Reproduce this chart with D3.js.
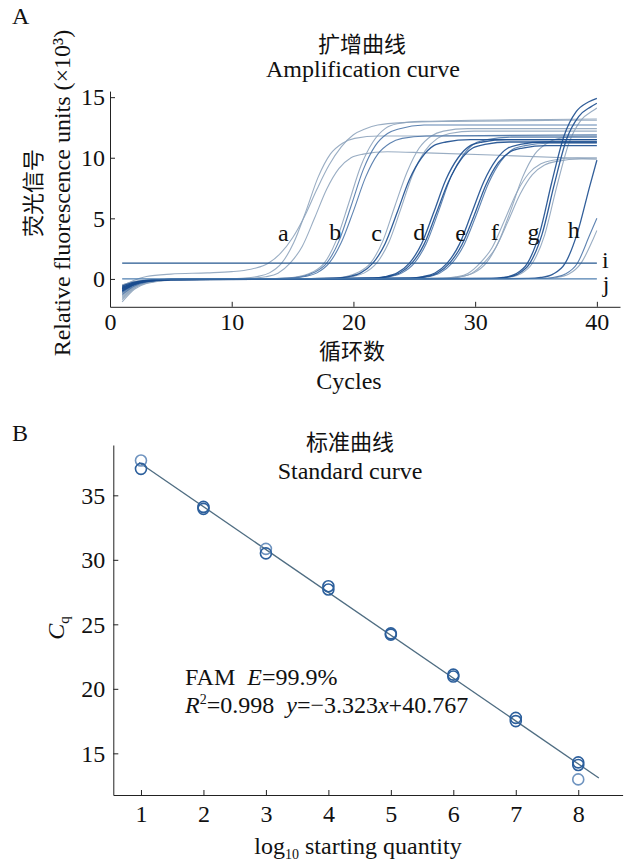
<!DOCTYPE html>
<html>
<head>
<meta charset="utf-8">
<script src="https://cdn.jsdelivr.net/npm/d3@7"></script>
<style>
  body { margin: 0; background: #fff; }
  svg text { font-family: "Liberation Serif", "Times New Roman", serif; fill: #111; }
  .cjk { font-family: "Noto Sans CJK SC", sans-serif; }
</style>
</head>
<body>
<div id="chart"></div>
<script>
// ---- panel A: amplification curves, [cycle, RFU x10^3] ----
const curveA = [
  [[1,-0.6],[2,-0.1],[3,0.2],[5,0.4],[8,0.5],[10,0.6],[11,0.7],[12,0.9],[13,1.3],[14,2.1],[15,3.4],[16,5.2],[17,7.4],[18,9.4],[19,10.9],[20,11.9],[21,12.4],[22,12.7],[24,12.9],[28,13.0],[40,13.1]],
  [[1,-0.9],[2,-0.4],[3,-0.18],[5,-0.05],[9,0],[11.1,0.07],[12.1,0.2],[13.1,0.5],[14.1,1.3],[15.1,3.0],[16.1,5.6],[17.1,8.4],[18.1,10.3],[19.1,11.2],[20.1,11.6],[22.1,11.8],[40,11.8]],
  [[1,-1.2],[2,-0.55],[3,-0.25],[5,-0.06],[9,0],[11.8,0.07],[12.8,0.18],[13.8,0.47],[14.8,1.3],[15.8,2.7],[16.8,5.0],[17.8,7.4],[18.8,9.1],[19.8,10.0],[20.8,10.3],[22.8,10.5],[26,10.4],[32,10.2],[40,9.9]]
];
const curveB = [
  [[1,-0.5],[2,-0.22],[3,-0.1],[5,-0.03],[12,0],[14.6,0.08],[15.6,0.22],[16.6,0.55],[17.6,1.3],[18.6,3.2],[19.6,6.2],[20.6,9.3],[21.6,11.3],[22.6,12.4],[23.6,12.8],[25.6,13.0],[40,13.2]],
  [[1,-0.8],[2,-0.36],[3,-0.16],[5,-0.04],[12,0],[14.8,0.08],[15.8,0.2],[16.8,0.55],[17.8,1.3],[18.8,3.1],[19.8,6.0],[20.8,9.0],[21.8,11.0],[22.8,12.0],[23.8,12.4],[25.8,12.7],[40,12.7]],
  [[1,-1.0],[2,-0.45],[3,-0.2],[5,-0.05],[12,0],[15,0.07],[16,0.2],[17,0.5],[18,1.3],[19,3.0],[20,5.6],[21,8.4],[22,10.3],[23,11.2],[24,11.6],[26,11.8],[40,11.9]]
];
const curveC = [
  [[1,-1.4],[2,-0.63],[3,-0.28],[5,-0.07],[12,0],[18.4,0.08],[19.4,0.2],[20.4,0.55],[21.4,1.3],[22.4,3.1],[23.4,6.0],[24.4,8.8],[25.4,10.8],[26.4,11.8],[27.4,12.2],[29.4,12.4],[40,12.4]],
  [[1,-0.7],[2,-0.32],[3,-0.14],[5,-0.04],[12,0],[18.6,0.07],[19.6,0.19],[20.6,0.5],[21.6,1.3],[22.6,2.9],[23.6,5.5],[24.6,8.2],[25.6,10.0],[26.6,11.0],[27.6,11.3],[29.6,11.5],[40,11.5]],
  [[1,-1.6],[2,-0.72],[3,-0.32],[5,-0.08],[12,0],[18.9,0.07],[19.9,0.2],[20.9,0.5],[21.9,1.3],[22.9,3.0],[23.9,5.8],[24.9,8.7],[25.9,10.6],[26.9,11.6],[27.9,12.0],[29.9,12.2],[40,12.2]]
];
const curveD = [
  [[1,-0.8],[2,-0.36],[3,-0.16],[5,-0.04],[14,0],[21.6,0.07],[22.6,0.19],[23.6,0.5],[24.6,1.3],[25.6,2.9],[26.6,5.5],[27.6,8.2],[28.6,10.0],[29.6,11.0],[30.6,11.3],[32.6,11.5],[40,11.5]],
  [[1,-1.0],[2,-0.45],[3,-0.2],[5,-0.05],[14,0],[21.8,0.07],[22.8,0.19],[23.8,0.49],[24.8,1.3],[25.8,2.85],[26.8,5.4],[27.8,8.0],[28.8,9.8],[29.8,10.8],[30.8,11.1],[32.8,11.3],[40,11.3]],
  [[1,-1.1],[2,-0.5],[3,-0.22],[5,-0.06],[14,0],[22.0,0.07],[23.0,0.19],[24.0,0.5],[25.0,1.3],[26.0,2.95],[27.0,5.6],[28.0,8.4],[29.0,10.2],[30.0,11.2],[31.0,11.5],[33.0,11.7],[40,11.7]]
];
const curveE = [
  [[1,-0.9],[2,-0.4],[3,-0.18],[5,-0.05],[16,0],[24.7,0.07],[25.7,0.19],[26.7,0.49],[27.7,1.3],[28.7,2.85],[29.7,5.4],[30.7,8.0],[31.7,9.8],[32.7,10.8],[33.7,11.1],[35.7,11.3],[40,11.3]],
  [[1,-0.6],[2,-0.27],[3,-0.12],[5,-0.03],[16,0],[24.9,0.07],[25.9,0.18],[26.9,0.48],[27.9,1.3],[28.9,2.8],[29.9,5.2],[30.9,7.8],[31.9,9.6],[32.9,10.5],[33.9,10.8],[35.9,11.0],[40,11.0]],
  [[1,-1.3],[2,-0.58],[3,-0.26],[5,-0.07],[16,0],[25.1,0.07],[26.1,0.18],[27.1,0.48],[28.1,1.3],[29.1,2.85],[30.1,5.3],[31.1,7.9],[32.1,9.7],[33.1,10.7],[34.1,11.0],[36.1,11.2],[40,11.2]]
];
const curveF = [
  [[1,-1.9],[2,-0.85],[3,-0.38],[5,-0.1],[8,-0.02],[18,0],[27.4,0.06],[28.4,0.17],[29.4,0.45],[30.4,1.3],[31.4,2.6],[32.4,4.8],[33.4,7.1],[34.4,8.7],[35.4,9.5],[36.4,9.8],[38.4,10.0],[40,10.0]],
  [[1,-1.5],[2,-0.68],[3,-0.3],[5,-0.08],[18,0],[27.7,0.06],[28.7,0.17],[29.7,0.45],[30.7,1.3],[31.7,2.6],[32.7,4.75],[33.7,7.0],[34.7,8.6],[35.7,9.4],[36.7,9.7],[38.7,9.9],[40,9.9]],
  [[1,-1.7],[2,-0.77],[3,-0.34],[5,-0.09],[18,0],[27.9,0.07],[28.9,0.2],[29.9,0.5],[30.9,1.3],[31.9,3.0],[32.9,5.6],[33.9,8.4],[34.9,10.3],[35.9,11.2],[36.9,11.6],[38.9,11.8],[40,11.8]]
];
const curveG = [
  [[1,-0.7],[2,-0.32],[3,-0.14],[5,-0.04],[20,0],[31.3,0.04],[32.3,0.12],[33.3,0.4],[34.3,1.3],[35.3,3.8],[36.3,8.0],[37.3,11.8],[38.3,13.8],[39.3,14.6],[40,14.9]],
  [[1,-1.0],[2,-0.45],[3,-0.2],[5,-0.05],[20,0],[31.5,0.04],[32.5,0.12],[33.5,0.4],[34.5,1.3],[35.5,3.7],[36.5,7.8],[37.5,11.5],[38.5,13.4],[39.5,14.2],[40,14.5]],
  [[1,-1.2],[2,-0.54],[3,-0.24],[5,-0.06],[20,0],[31.7,0.04],[32.7,0.12],[33.7,0.4],[34.7,1.3],[35.7,3.6],[36.7,7.6],[37.7,11.2],[38.7,13.1],[39.7,13.9],[40,14.1]]
];
const curveH = [
  [[1,-0.8],[2,-0.36],[3,-0.16],[5,-0.04],[22,0],[34.4,0.04],[35.4,0.12],[36.4,0.4],[37.4,1.3],[38.4,3.8],[39.4,7.6],[40,9.8]],
  [[1,-1.1],[2,-0.5],[3,-0.22],[5,-0.06],[22,0],[35.4,0.04],[36.4,0.12],[37.4,0.4],[38.4,1.3],[39.4,3.6],[40,5.0]],
  [[1,-0.5],[2,-0.22],[3,-0.1],[5,-0.03],[22,0],[35.7,0.04],[36.7,0.12],[37.7,0.4],[38.7,1.3],[39.7,3.3],[40,4.0]]
];
// tone of each replicate: 0 light, 1 medium, 2 dark
const curveTone = [[0,0,0],[0,1,1],[0,2,0],[2,2,1],[2,2,1],[0,0,0],[2,2,0],[2,1,0]];
const thresholdI = 1.3;
const negativeJ = 0;
const groupLabels = ["a", "b", "c", "d", "e", "f", "g", "h"];
const groupLabelX = [14.24, 18.5, 21.9, 25.4, 28.8, 31.6, 34.8, 38.1];
const groupLabelY = [3.85, 3.9, 3.85, 3.9, 3.85, 3.9, 3.9, 4.1];
const ticksA_x = [0, 10, 20, 30, 40];
const ticksA_y = [0, 5, 10, 15];

// ---- panel B: standard curve ----
const stdLogQty = [1, 1, 2, 2, 3, 3, 4, 4, 5, 5, 6, 6, 7, 7, 8, 8, 8];
const stdCq = [37.7, 37.05, 34.1, 33.95, 30.85, 30.5, 27.95, 27.7, 24.3, 24.2, 21.1, 20.95, 17.75, 17.5, 14.3, 14.1, 12.98];
const stdLight = [1, 0, 0, 0, 1, 0, 0, 0, 0, 0, 0, 0, 0, 0, 0, 0, 1];
const fitSlope = -3.323, fitIntercept = 40.767;
const fitRange = [0.97, 8.33];
const ticksB_x = [1, 2, 3, 4, 5, 6, 7, 8];
const ticksB_y = [15, 20, 25, 30, 35];

(function () {
    const W = 624, H = 862;
    const toneColor = ["#8ea4bd", "#4d75a8", "#1b4c8e"];

    const svg = d3.select("#chart").append("svg")
        .attr("width", W)
        .attr("height", H);

    function styleAxis(g) {
        g.selectAll("text").style("font-size", "24px").attr("fill", "#111")
            .style("font-family", "'Liberation Serif', serif");
        g.select(".domain").attr("stroke", "#222");
        g.selectAll(".tick line").attr("stroke", "#222");
    }

    // ===== Panel A =====
    const xA = d3.scaleLinear().domain([0, 41.9]).range([110, 620]);
    const yA = d3.scaleLinear().domain([-2.3, 15.5]).range([306.8, 91.1]);

    svg.append("text").attr("x", 12).attr("y", 24).style("font-size", "24px").text("A");
    svg.append("text").attr("class", "cjk").attr("x", 362).attr("y", 52)
        .attr("text-anchor", "middle").style("font-size", "22px").text("扩增曲线");
    svg.append("text").attr("x", 363).attr("y", 77)
        .attr("text-anchor", "middle").style("font-size", "24px").text("Amplification curve");

    svg.append("g").attr("transform", `translate(0,${yA(-2.3)})`)
        .call(d3.axisBottom(xA).tickValues(ticksA_x).tickSizeInner(-5).tickSizeOuter(0).tickPadding(6))
        .call(styleAxis);
    svg.append("g").attr("transform", `translate(${xA(0)},0)`)
        .call(d3.axisLeft(yA).tickValues(ticksA_y).tickSizeInner(-5).tickSizeOuter(0).tickPadding(5))
        .call(styleAxis);

    svg.append("text").attr("class", "cjk").attr("x", 352).attr("y", 359)
        .attr("text-anchor", "middle").style("font-size", "22px").text("循环数");
    svg.append("text").attr("x", 349).attr("y", 389)
        .attr("text-anchor", "middle").style("font-size", "24px").text("Cycles");

    svg.append("text").attr("class", "cjk")
        .attr("transform", "translate(41,193) rotate(-90)")
        .attr("text-anchor", "middle").style("font-size", "22px").text("荧光信号");
    svg.append("text")
        .attr("transform", "translate(70,193) rotate(-90)")
        .attr("text-anchor", "middle").style("font-size", "24px")
        .text("Relative fluorescence units (×10³)");

    const line = d3.line()
        .x(d => xA(d[0]))
        .y(d => yA(d[1]))
        .curve(d3.curveMonotoneX);

    const groups = [curveA, curveB, curveC, curveD, curveE, curveF, curveG, curveH];
    const plotA = svg.append("g");
    // light curves first, dark on top
    [0, 1, 2].forEach(tone => {
        groups.forEach((grp, gi) => {
            grp.forEach((pts, ri) => {
                if (curveTone[gi][ri] !== tone) return;
                plotA.append("path")
                    .datum(pts)
                    .attr("fill", "none")
                    .attr("stroke", toneColor[tone])
                    .attr("stroke-width", tone === 2 ? 1.3 : 1.1)
                    .attr("stroke-opacity", 0.9)
                    .attr("d", line);
            });
        });
    });

    [thresholdI, negativeJ].forEach((v, k) => {
        plotA.append("path")
            .datum([[1, v], [40, v]])
            .attr("fill", "none")
            .attr("stroke", k === 0 ? "#24578f" : "#4f7fb0")
            .attr("stroke-width", 1.3)
            .attr("d", line);
    });

    groupLabels.forEach((lab, k) => {
        svg.append("text")
            .attr("x", xA(groupLabelX[k]))
            .attr("y", yA(groupLabelY[k]))
            .attr("dy", "0.35em")
            .attr("text-anchor", "middle")
            .style("font-size", "24px")
            .text(lab);
    });
    svg.append("text").attr("x", xA(40.7)).attr("y", yA(thresholdI + 0.27)).attr("dy", "0.35em")
        .attr("text-anchor", "middle").style("font-size", "24px").text("i");
    svg.append("text").attr("x", xA(40.75)).attr("y", yA(negativeJ - 0.35)).attr("dy", "0.35em")
        .attr("text-anchor", "middle").style("font-size", "24px").text("j");

    // ===== Panel B =====
    const xB = d3.scaleLinear().domain([0.557, 8.71]).range([113.3, 622.6]);
    const yB = d3.scaleLinear().domain([11.77, 38.9]).range([795, 445]);

    svg.append("text").attr("x", 12).attr("y", 441).style("font-size", "24px").text("B");
    svg.append("text").attr("class", "cjk").attr("x", 350).attr("y", 450)
        .attr("text-anchor", "middle").style("font-size", "22px").text("标准曲线");
    svg.append("text").attr("x", 350).attr("y", 479)
        .attr("text-anchor", "middle").style("font-size", "24px").text("Standard curve");

    svg.append("g").attr("transform", `translate(0,${yB(11.77)})`)
        .call(d3.axisBottom(xB).tickValues(ticksB_x).tickSizeInner(-5).tickSizeOuter(0).tickPadding(10))
        .call(styleAxis);
    svg.append("g").attr("transform", `translate(${xB(0.557)},0)`)
        .call(d3.axisLeft(yB).tickValues(ticksB_y).tickSizeInner(-5).tickSizeOuter(0).tickPadding(8))
        .call(styleAxis);

    const cqLabel = svg.append("text")
        .attr("transform", "translate(64,628) rotate(-90)")
        .attr("text-anchor", "middle").style("font-size", "24px");
    cqLabel.append("tspan").style("font-style", "italic").text("C");
    cqLabel.append("tspan").attr("dy", 5).style("font-size", "15px").text("q");

    const xLab = svg.append("text").attr("x", 358).attr("y", 854)
        .attr("text-anchor", "middle").style("font-size", "24px");
    xLab.append("tspan").text("log");
    xLab.append("tspan").attr("dy", 5).style("font-size", "14px").text("10");
    xLab.append("tspan").attr("dy", -5).text(" starting quantity");

    svg.append("line")
        .attr("x1", xB(fitRange[0])).attr("y1", yB(fitSlope * fitRange[0] + fitIntercept))
        .attr("x2", xB(fitRange[1])).attr("y2", yB(fitSlope * fitRange[1] + fitIntercept))
        .attr("stroke", "#4f6d82")
        .attr("stroke-width", 1.3);

    svg.append("g").selectAll("circle")
        .data(stdLogQty.map((q, k) => ({ q, cq: stdCq[k], light: stdLight[k] })))
        .enter()
        .append("circle")
        .attr("cx", d => xB(d.q))
        .attr("cy", d => yB(d.cq))
        .attr("r", 5.5)
        .attr("fill", "none")
        .attr("stroke", d => d.light ? "#6e93bf" : "#2c5f9c")
        .attr("stroke-width", 1.6);

    const ann1 = svg.append("text").attr("x", 185).attr("y", 685)
        .style("font-size", "24px").style("white-space", "pre");
    ann1.append("tspan").text("FAM  ");
    ann1.append("tspan").style("font-style", "italic").text("E");
    ann1.append("tspan").text("=99.9%");

    const ann2 = svg.append("text").attr("x", 185).attr("y", 713)
        .style("font-size", "24px").style("white-space", "pre");
    ann2.append("tspan").style("font-style", "italic").text("R");
    ann2.append("tspan").attr("dy", -9).style("font-size", "14px").text("2");
    ann2.append("tspan").attr("dy", 9).text("=0.998  ");
    ann2.append("tspan").style("font-style", "italic").text("y");
    ann2.append("tspan").text("=\u22123.323");
    ann2.append("tspan").style("font-style", "italic").text("x");
    ann2.append("tspan").text("+40.767");
})();
</script>
</body>
</html>
